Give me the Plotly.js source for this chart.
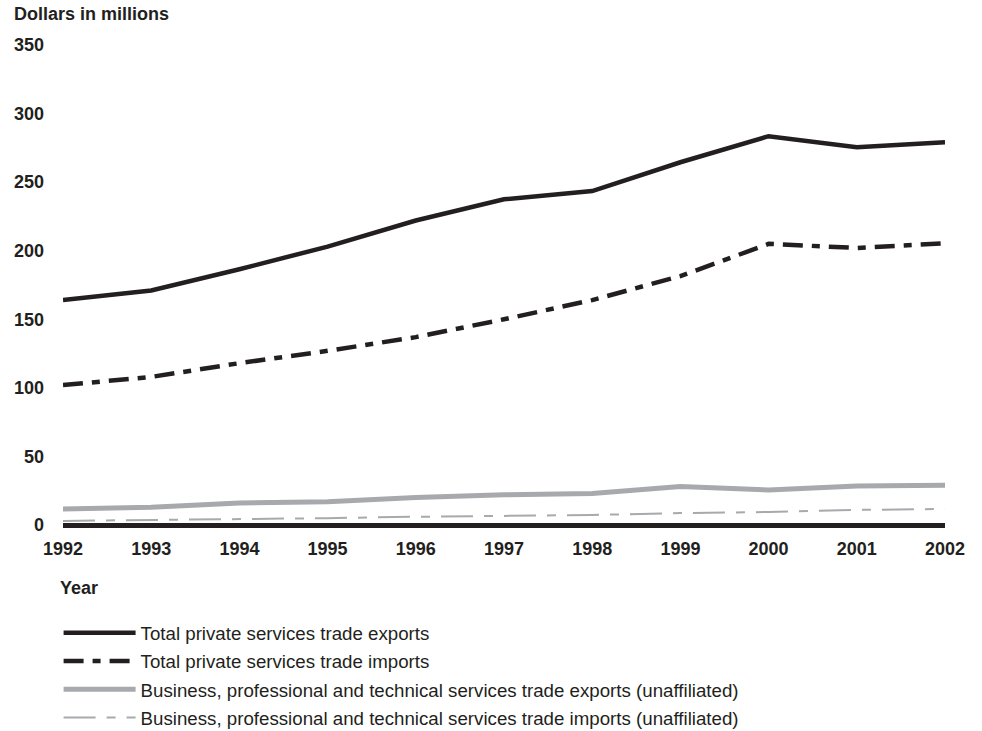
<!DOCTYPE html>
<html><head><meta charset="utf-8">
<script src="https://cdn.plot.ly/plotly-3.0.1.min.js"></script>
<style>html,body{margin:0;padding:0;background:#fff}#chart{width:982px;height:731px}</style>
</head><body><div id="chart"></div>
<script>
const years = [1992,1993,1994,1995,1996,1997,1998,1999,2000,2001,2002];
const totalExports = [164,171,186.5,203,222,237.5,243.5,264.5,283.5,275.5,279];
const totalImports = [102,108,118,127,137,150,164,181.5,205,202,205.5];
const bptExports = [11.7,13,16,17,20,22,23,28,25.5,28.5,29];
const bptImports = [3,3.6,4.4,5,6,6.6,7.3,8.7,9.5,11,11.7];
const seriesNames = [
  "Total private services trade exports",
  "Total private services trade imports",
  "Business, professional and technical services trade exports (unaffiliated)",
  "Business, professional and technical services trade imports (unaffiliated)"
];
const yTicks = [0,50,100,150,200,250,300,350];

const dark = "#231f20", gray = "#a7a9ac";
const font = "Liberation Sans, Arial, sans-serif";

const traces = [
  {x: years, y: totalExports, name: seriesNames[0], legendgroup: "a",
   line: {color: dark, width: 4.5}},
  {x: years, y: totalImports, name: seriesNames[1], legendgroup: "b",
   line: {color: dark, width: 4.5, dash: "20px,9px,8px,9px"}},
  {x: years, y: bptExports, name: seriesNames[2], legendgroup: "c",
   line: {color: gray, width: 5}},
  {x: years, y: bptImports, name: seriesNames[3], legendgroup: "d",
   line: {color: gray, width: 2, dash: "32px,11px,9px,11px"}}
].map(t => Object.assign({type: "scatter", mode: "lines"}, t));

const layout = {
  width: 982, height: 731,
  margin: {l: 63, r: 37, t: 45, b: 206, autoexpand: false},
  paper_bgcolor: "#fff", plot_bgcolor: "#fff",
  font: {family: font, color: dark},
  showlegend: true,
  legend: {x: -0.005, xanchor: "left", yref: "container", y: 1 - 614/731, yanchor: "top",
    font: {family: font, size: 18.7, color: dark},
    tracegroupgap: 1, itemwidth: 72, bgcolor: "rgba(0,0,0,0)"},
  xaxis: {range: [1992, 2002], tickvals: years, ticktext: years.map(String),
    showgrid: false, zeroline: false, showline: false, ticks: "",
    ticklabelstandoff: 11, automargin: false,
    tickfont: {family: font, size: 18, color: dark, weight: "bold"}},
  yaxis: {range: [0, 350], tickvals: yTicks, ticktext: yTicks.map(String),
    showgrid: false, zeroline: true, zerolinecolor: dark, zerolinewidth: 5,
    showline: false, ticks: "", ticklabelstandoff: 18, automargin: false,
    tickfont: {family: font, size: 18, color: dark, weight: "bold"}},
  annotations: [
    {text: "<b>Dollars in millions</b>", xref: "paper", yref: "paper", x: -51/882, y: 1 + 31/480,
     xanchor: "left", yanchor: "middle", showarrow: false,
     font: {family: font, size: 18, color: dark}},
    {text: "<b>Year</b>", xref: "paper", yref: "paper", x: -5/882, y: -63/480,
     xanchor: "left", yanchor: "middle", showarrow: false,
     font: {family: font, size: 18, color: dark}}
  ]
};
Plotly.newPlot("chart", traces, layout, {displayModeBar: false});
</script></body></html>
